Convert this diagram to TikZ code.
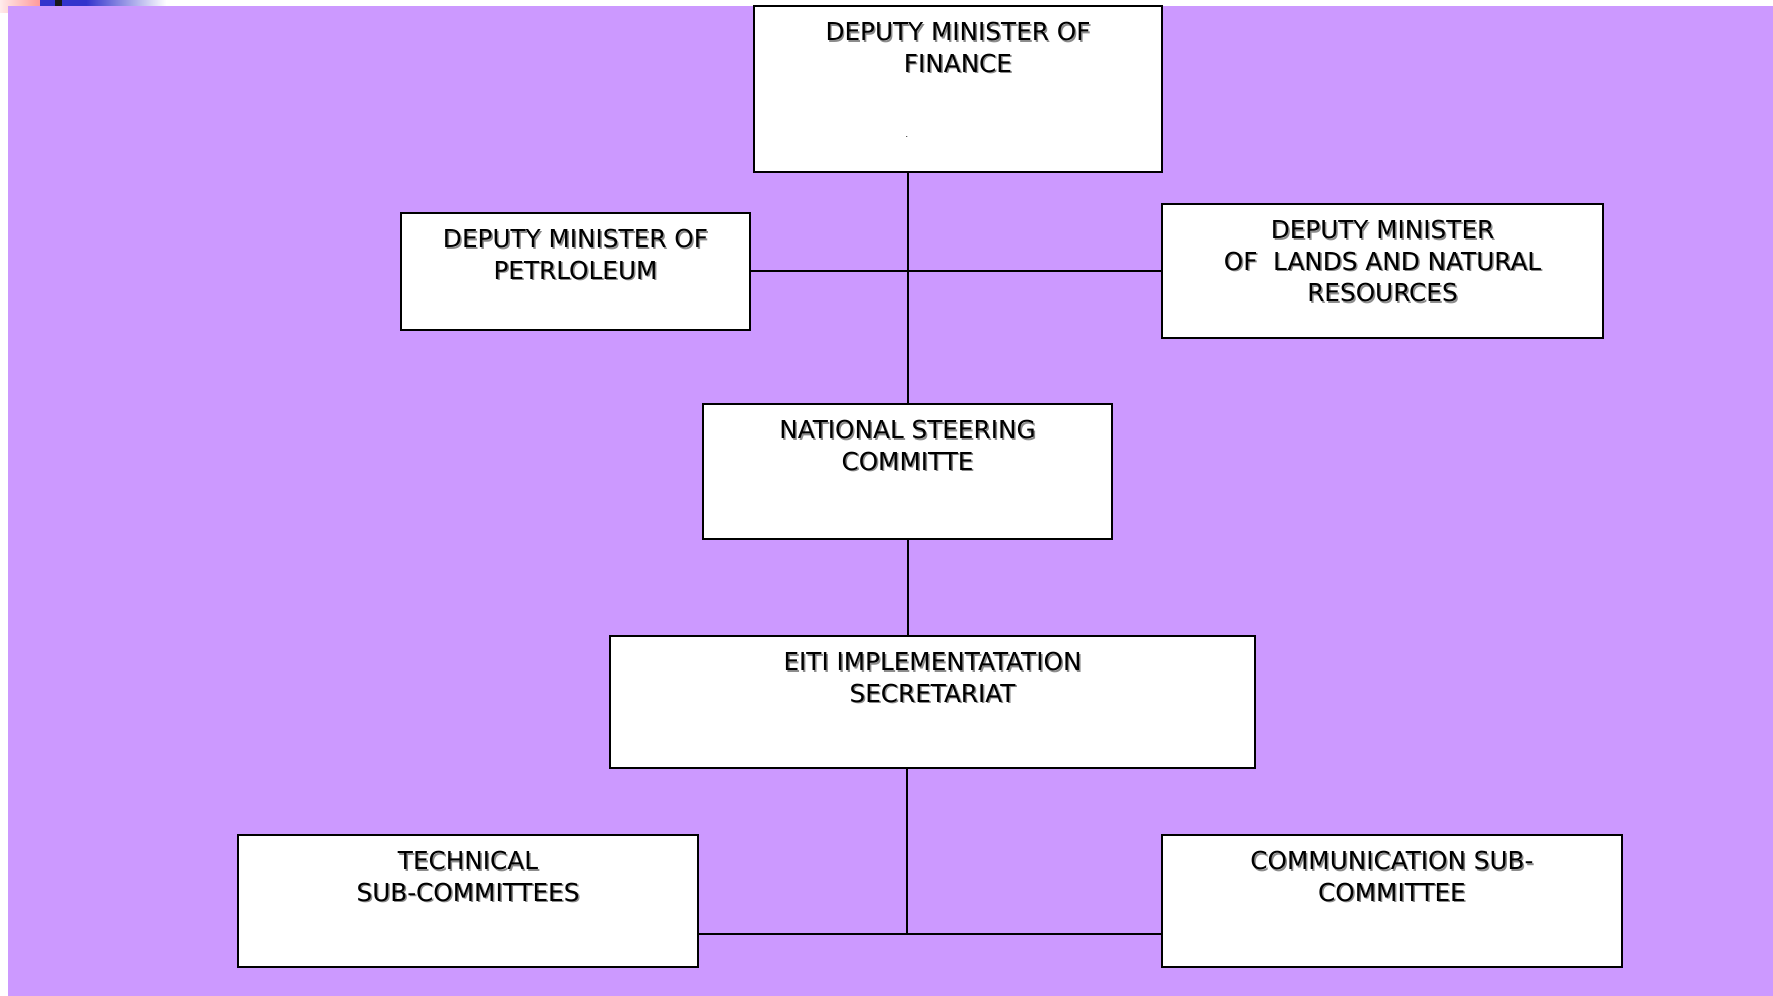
\documentclass[tikz,border=0pt]{standalone}
\usepackage{fontspec}
\setmainfont{DejaVu Sans}
\definecolor{bgpurple}{HTML}{CC99FF}
\definecolor{topblue}{HTML}{3333CC}
\definecolor{shadowc}{HTML}{8C8C8C}
\newcommand\shl[1]{\makebox[0pt][l]{\kern0.75pt\raisebox{-0.75pt}{\textcolor{shadowc}{#1}}}#1}
\tikzset{
  orgbox/.style={draw=black, fill=white, line width=1pt, rectangle, inner sep=0pt},
  orgtext/.style={anchor=north, inner sep=0pt, align=center, text=black,
    font=\fontsize{12.35}{15.75}\selectfont},
  conn/.style={draw=black, line width=1pt}
}
\begin{document}
\begin{tikzpicture}[x=0.5pt, y=-0.5pt]
\useasboundingbox (0,0) rectangle (1773,996);
% background
\fill[white] (0,0) rectangle (1773,996);
\shade[left color=red!8, right color=red!40] (0,0) rectangle (40,12);
\fill[topblue] (40,0) rectangle (86,6);
\shade[left color=topblue, right color=white] (86,0) rectangle (166,6);
\fill[black!90] (55,0) rectangle (62,6);
\fill[bgpurple] (8,6) rectangle (1773,996);

% boxes
\node[orgbox, minimum width=204pt, minimum height=83pt] (fin) at (958,89) {};
\node[orgbox, minimum width=174.5pt, minimum height=58.5pt] (pet) at (575.5,271.5) {};
\node[orgbox, minimum width=220.5pt, minimum height=67pt] (lands) at (1382.5,271) {};
\node[orgbox, minimum width=204.5pt, minimum height=67.5pt] (nsc) at (907.5,471.5) {};
\node[orgbox, minimum width=322.5pt, minimum height=66pt] (eiti) at (932.5,702) {};
\node[orgbox, minimum width=230pt, minimum height=66pt] (tech) at (468,901) {};
\node[orgbox, minimum width=230pt, minimum height=66pt] (comm) at (1392,901) {};

% texts
\node[orgtext] (fint) at ([yshift=-8.5pt]fin.north) {\shl{DEPUTY MINISTER OF}\\\shl{FINANCE}};
\node[inner sep=0pt, font=\fontsize{4}{4}\selectfont] (findot) at (907,137) {.};
\node[orgtext] (pett) at ([yshift=-8.5pt]pet.north) {\shl{DEPUTY MINISTER OF}\\\shl{PETRLOLEUM}};
\node[orgtext] (landst) at ([yshift=-8.5pt]lands.north) {\shl{DEPUTY MINISTER}\\\shl{OF\ \ LANDS AND NATURAL}\\\shl{RESOURCES}};
\node[orgtext] (nsct) at ([yshift=-8.5pt]nsc.north) {\shl{NATIONAL STEERING}\\\shl{COMMITTE}};
\node[orgtext] (eitit) at ([yshift=-8.5pt]eiti.north) {\shl{EITI IMPLEMENTATATION}\\\shl{SECRETARIAT}};
\node[orgtext] (techt) at ([yshift=-8.5pt]tech.north) {\shl{TECHNICAL}\\\shl{SUB-COMMITTEES}};
\node[orgtext] (commt) at ([yshift=-8.5pt]comm.north) {\shl{COMMUNICATION SUB-}\\\shl{COMMITTEE}};

% connectors
\coordinate (bus) at (907,934);
\draw[conn] (fin.south -| nsc.north) -- (nsc.north);
\draw[conn] (pet.east |- lands.west) -- (lands.west);
\draw[conn] (nsc.south) -- (nsc.south |- eiti.north);
\draw[conn] (eiti.south -| bus) -- (bus);
\draw[conn] (tech.east |- bus) -- (comm.west |- bus);
\end{tikzpicture}
\end{document}
